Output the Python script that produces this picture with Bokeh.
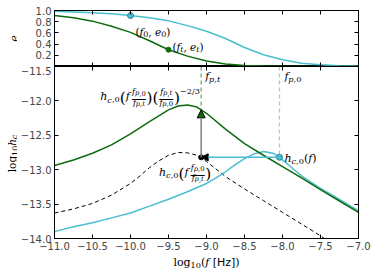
import numpy as np
from bokeh.plotting import figure
from bokeh.models import Range1d, LinearAxis, FixedTicker, Label, Arrow, NormalHead
from bokeh.layouts import column, row
from bokeh.embed import file_html
from bokeh.resources import INLINE

# ---------------- data ----------------
x_ticks = [-11.0, -10.5, -10.0, -9.5, -9.0, -8.5, -8.0, -7.5, -7.0]
x_tick_labels = ["−11.0", "−10.5", "−10.0", "−9.5", "−9.0", "−8.5", "−8.0", "−7.5", "−7.0"]
e_ticks = [0.2, 0.4, 0.6, 0.8, 1.0]
e_tick_labels = ["0.2", "0.4", "0.6", "0.8", "1.0"]
h_ticks = [-14.0, -13.5, -13.0, -12.5, -12.0, -11.5]
h_tick_labels = ["−14.0", "−13.5", "−13.0", "−12.5", "−12.0", "−11.5"]

# eccentricity panel
e_logf = [-11.0, -10.75, -10.5, -10.25, -10.0, -9.75, -9.5, -9.25, -9.0, -8.75,
          -8.5, -8.25, -8.0, -7.75, -7.5, -7.25, -7.0]
e0_vals = [0.985, 0.975, 0.96, 0.94, 0.91, 0.87, 0.815, 0.73, 0.63, 0.50,
           0.34, 0.21, 0.12, 0.06, 0.03, 0.012, 0.005]
et_vals = [0.91, 0.87, 0.81, 0.72, 0.61, 0.46, 0.30, 0.185, 0.10, 0.045,
           0.018, 0.007, 0.003, 0.002, 0.001, 0.0005, 0.0]
mark_logf = [-10.0, -9.5]     # f0, ft
mark_e = [0.91, 0.30]         # e0, et

# characteristic strain panel
hct_logf = [-11.0, -10.75, -10.5, -10.25, -10.0, -9.75, -9.5, -9.375, -9.25, -9.125,
            -9.0, -8.75, -8.5, -8.25, -8.0, -7.75, -7.5, -7.25, -7.0]
hct_vals = [-12.94, -12.86, -12.76, -12.64, -12.48, -12.30, -12.13, -12.075, -12.06, -12.09,
            -12.18, -12.41, -12.62, -12.79, -12.955, -13.12, -13.29, -13.455, -13.62]
hc0_logf = [-11.0, -10.75, -10.5, -10.25, -10.0, -9.75, -9.5, -9.25, -9.0, -8.875, -8.75,
            -8.625, -8.5, -8.375, -8.25, -8.125, -8.04, -7.9, -7.75, -7.5, -7.25, -7.0]
hc0_vals = [-13.90, -13.83, -13.77, -13.70, -13.63, -13.53, -13.43, -13.32, -13.20, -13.12, -13.03,
            -12.93, -12.84, -12.77, -12.735, -12.76, -12.82, -12.95, -13.09, -13.27, -13.43, -13.60]
hsh_logf = [-11.0, -10.75, -10.5, -10.25, -10.0, -9.875, -9.75, -9.625, -9.5, -9.375, -9.25,
            -9.125, -9.0, -8.875, -8.75, -8.5, -8.25, -8.0, -7.75, -7.5, -7.45]
hsh_vals = [-13.63, -13.57, -13.49, -13.37, -13.20, -13.09, -12.97, -12.87, -12.79, -12.75, -12.755,
            -12.79, -12.88, -12.99, -13.10, -13.28, -13.45, -13.62, -13.79, -13.96, -14.0]
f_p = [-9.07, -8.04]          # log10 f_p,t , log10 f_p,0
h_p = [-12.13, -12.82]        # green curve at f_p,t ; cyan curve at f_p,0

X_LIM = (-11.0, -7.0)
E_LIM = (0.0, 1.0)
H_LIM = (-14.0, -11.5)

CYAN = "#48bed0"
CYAN_EDGE = "#2a8898"
GREEN = "#0d6b0d"
SERIF = "DejaVu Serif"
SANS = "DejaVu Sans"

# ---------------- rich text helper ----------------
W_I = {"f": 0.35, "h": 0.64, "c": 0.56, "e": 0.59, "p": 0.64, "t": 0.40}
W_R = {**{d: 0.636 for d in "0123456789"}, "(": 0.39, ")": 0.39, ",": 0.318, " ": 0.318,
       "/": 0.337, "−": 0.838, "l": 0.32, "o": 0.60, "g": 0.64, "[": 0.39, "]": 0.39,
       "H": 0.75, "z": 0.525}


def tw(s, italic, size):
    tbl = W_I if italic else W_R
    return sum(tbl.get(ch, W_R.get(ch, 0.6)) for ch in s) * size


def lay(items, size, depth=0):
    out = []
    u = 0.0
    ss = size * (0.75 if depth == 0 else 0.82)
    for it in items:
        k = it[0]
        if k in ("i", "r", "s"):
            out.append((it[1], u, 0.0, size, k))
            u += tw(it[1], k == "i", size)
        elif k == "sp":
            u += it[1] * size
        elif k == "sub":
            sb, w = lay(it[1], ss, depth + 1)
            out += [(t, u + a, b - 0.25 * size, s, st) for t, a, b, s, st in sb]
            u += w
        elif k == "sup":
            sb, w = lay(it[1], ss, depth + 1)
            out += [(t, u + a, b + 0.5 * size, s, st) for t, a, b, s, st in sb]
            u += w
        elif k == "big":
            bs = size * 1.4
            out.append((it[1], u, 0.3 * size - 0.31 * bs, bs, "r"))
            u += 0.39 * bs
        elif k == "frac":
            n, wn = lay(it[1], ss, depth + 1)
            d, wd = lay(it[2], ss, depth + 1)
            wm = max(wn, wd) + 0.15 * size
            ax = 0.3 * size
            out += [(t, u + (wm - wn) / 2 + a, b + ax + 0.2 * size, s, st) for t, a, b, s, st in n]
            out += [(t, u + (wm - wd) / 2 + a, b + ax - 0.2 * size - 0.72 * ss, s, st) for t, a, b, s, st in d]
            out.append(("—", u, ax - 0.3 * wm, wm, "r"))
            u += wm
    return out, u


def rich(p, x, y, items, size=11.0, ox=0.0, oy=0.0, align="left", rot=False, color="black"):
    parts, w = lay(items, size)
    shift = {"left": 0.0, "center": -w / 2, "right": -w}[align]
    for t, u, v, s, st in parts:
        uu = u + shift
        if rot:
            xo, yo = ox - v, oy + uu
        else:
            xo, yo = ox + uu, oy + v
        p.add_layout(Label(x=x, y=y, x_offset=xo, y_offset=yo, text=t,
                           text_font=SANS if st == "s" else SERIF,
                           text_font_style="italic" if st == "i" else "normal",
                           text_font_size=f"{s:.1f}px", text_color=color,
                           text_baseline="alphabetic", text_align="left",
                           angle=np.pi / 2 if rot else 0.0))


def sub(*items):
    return ("sub", list(items))


FP0 = [("i", "f"), sub(("i", "p"), ("r", ",0"))]
FPT = [("i", "f"), sub(("i", "p"), ("r", ","), ("i", "t"))]
HC0 = [("i", "h"), sub(("i", "c"), ("r", ",0"))]


# ---------------- axes helper ----------------
def style_axis(ax, ticks, labels, show):
    ax.ticker = FixedTicker(ticks=ticks)
    ax.axis_line_color = "black"
    ax.major_tick_line_color = "black"
    ax.major_tick_in = 4
    ax.major_tick_out = 0
    ax.minor_tick_line_color = None
    if show:
        ax.major_label_overrides = {t: l for t, l in zip(ticks, labels)}
        ax.major_label_text_font = SANS
        ax.major_label_text_font_size = "10px"
        ax.major_label_standoff = 3
    else:
        ax.major_label_overrides = {t: "" for t in ticks}
        ax.major_label_text_font_size = "0px"
        ax.major_label_standoff = 0


def bare(width, height, xr, yr, left=0, right=0, top=0, bottom=0):
    p = figure(width=width, height=height, x_range=xr, y_range=yr,
               output_backend="svg", toolbar_location=None,
               x_axis_location=None, y_axis_location=None,
               min_border_left=left, min_border_right=right,
               min_border_top=top, min_border_bottom=bottom)
    p.xgrid.visible = False
    p.ygrid.visible = False
    p.outline_line_color = None
    p.background_fill_color = "white"
    p.border_fill_color = "white"
    return p


def make_fig(height, y_lim, yt, ylab, show_x, top_b, bot_b):
    p = bare(357, height, Range1d(*X_LIM), Range1d(*y_lim), 34, 16, top_b, bot_b)
    p.outline_line_color = "black"
    for side, show in (("left", True), ("right", False)):
        ax = LinearAxis()
        style_axis(ax, yt, ylab, show)
        p.add_layout(ax, side)
    for side, show in (("below", show_x), ("above", False)):
        ax = LinearAxis()
        style_axis(ax, x_ticks, x_tick_labels, show)
        p.add_layout(ax, side)
    return p


# ---------------- top panel: eccentricity ----------------
top = make_fig(66, E_LIM, e_ticks, e_tick_labels, False, 10, 0)
top.line(e_logf, e0_vals, line_color=CYAN, line_width=1.5)
top.line(e_logf, et_vals, line_color=GREEN, line_width=1.5)
top.scatter([mark_logf[0]], [mark_e[0]], size=6, fill_color=CYAN, line_color=CYAN_EDGE, line_width=1)
top.scatter([mark_logf[1]], [mark_e[1]], size=5, fill_color=GREEN, line_color=GREEN)
rich(top, mark_logf[0], mark_e[0],
     [("r", "("), ("i", "f"), sub(("r", "0")), ("r", ", "), ("i", "e"), sub(("r", "0")), ("r", ")")],
     size=10.5, ox=5, oy=-16)
rich(top, mark_logf[1], mark_e[1],
     [("r", "("), ("i", "f"), sub(("i", "t")), ("r", ", "), ("i", "e"), sub(("i", "t")), ("r", ")")],
     size=10.5, ox=4, oy=3)

# ---------------- bottom panel: characteristic strain ----------------
bot = make_fig(188, H_LIM, h_ticks, h_tick_labels, True, 0, 16)
bot.segment(x0=f_p, y0=[H_LIM[1]] * 2, x1=f_p, y1=h_p,
            line_color=["#5fb35f", "#8ad6e2"], line_dash="4 3", line_width=1.3)
bot.line(hsh_logf, hsh_vals, line_color="black", line_dash="4 3", line_width=1)
bot.line(hc0_logf, hc0_vals, line_color=CYAN, line_width=1.5)
bot.line(hct_logf, hct_vals, line_color=GREEN, line_width=1.5)
bot.add_layout(Arrow(end=NormalHead(size=7, fill_color="black", line_color="black", line_width=1),
                     x_start=f_p[1], y_start=h_p[1], x_end=f_p[0], y_end=h_p[1],
                     line_color=CYAN, line_width=1.5))
bot.add_layout(Arrow(end=NormalHead(size=8, fill_color=GREEN, line_color="black", line_width=1),
                     x_start=f_p[0], y_start=h_p[1], x_end=f_p[0], y_end=h_p[0],
                     line_color="#7f7f7f", line_width=1.5))
bot.scatter([f_p[0]], [h_p[1]], size=5, fill_color="black", line_color="black")
bot.scatter([f_p[1]], [h_p[1]], size=6, fill_color=CYAN, line_color=CYAN_EDGE, line_width=1)

rich(bot, f_p[0], H_LIM[1], FPT, ox=4, oy=-10)
rich(bot, f_p[1], H_LIM[1], FP0, ox=5, oy=-10)
rich(bot, f_p[0], h_p[0],
     HC0 + [("big", "("), ("i", "f"), ("sp", 0.15), ("frac", FP0, FPT), ("big", ")"),
            ("big", "("), ("frac", FPT, FP0), ("big", ")"), ("sup", [("r", "−2/3")])],
     ox=-51, oy=13, align="center")
rich(bot, f_p[0], h_p[1],
     HC0 + [("big", "("), ("i", "f"), ("sp", 0.15), ("frac", FP0, FPT), ("big", ")")],
     ox=-16, oy=-15, align="center")
rich(bot, f_p[1], h_p[1], HC0 + [("r", "("), ("i", "f"), ("r", ")")], ox=5, oy=-1)

# ---------------- axis titles (own strips so that nothing is clipped) ----------------
ystrip = bare(17, 271, Range1d(0, 17), Range1d(0, 271))
rich(ystrip, 17, 271, [("i", "e")], size=11, ox=-3.5, oy=-38, align="center", rot=True)
rich(ystrip, 17, 271, [("r", "log"), sub(("r", "10")), ("i", "h"), sub(("i", "c"))],
     size=10.5, ox=-5.5, oy=-153, align="center", rot=True)

xstrip = bare(357, 17, Range1d(*X_LIM), Range1d(0, 17), 34, 16, 0, 0)
rich(xstrip, sum(X_LIM) / 2, 17,
     [("r", "log"), sub(("r", "10")), ("r", "("), ("i", "f"), ("r", " "), ("s", "[Hz]"), ("r", ")")],
     size=11, oy=-8, align="center")

layout = row(ystrip, column(top, bot, xstrip))
open("out.html", "w").write(file_html(layout, INLINE))
